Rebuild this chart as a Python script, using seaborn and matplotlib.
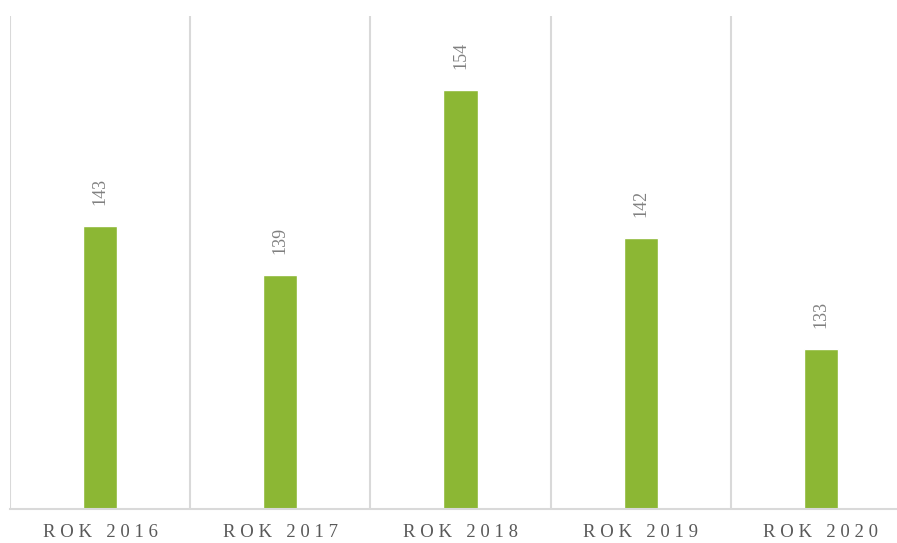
import matplotlib
matplotlib.use("Agg")
import matplotlib.pyplot as plt
import seaborn as sns
import pandas as pd

years = ["ROK 2016", "ROK 2017", "ROK 2018", "ROK 2019", "ROK 2020"]
values = [143, 139, 154, 142, 133]

df = pd.DataFrame({"rok": years, "liczba": values})

sns.set_style("white")
plt.rcParams['font.family'] = ['Liberation Serif', 'DejaVu Serif']

text_gray = "#595959"
grid_gray = "#d9d9d9"
bar_green = "#8cb734"

fig = plt.figure(figsize=(8.97, 5.43), dpi=100)
# axes run slightly past the right edge, as in the original
ax = fig.add_axes([10 / 897, 34 / 543, 901 / 897, 493 / 543])

sns.barplot(data=df, x="rok", y="liczba", color=bar_green, width=0.19,
            saturation=1, ax=ax)

ax.set_ylim(120, 160)
ax.set_xlim(-0.5, len(years) - 0.5)
ax.set_yticks([])
ax.set_xlabel("")
ax.set_ylabel("")

# vertical separators between categories
ax.set_xticks([i - 0.5 for i in range(len(years) + 1)], minor=True)
ax.grid(True, which="minor", axis="x", color=grid_gray, linewidth=1.5)
ax.grid(False, which="major")
ax.set_axisbelow(True)

for side in ["top", "left", "right"]:
    ax.spines[side].set_visible(False)
ax.spines["bottom"].set_color(grid_gray)
ax.spines["bottom"].set_linewidth(1.5)

# fake letter spacing with spaces between the letters
spaced = [" ".join(list(y)) for y in years]
ax.set_xticks(range(len(years)))
ax.set_xticklabels(spaced, fontsize=13.5, color=text_gray)
ax.tick_params(axis="x", which="both", length=0, pad=11)

ax.bar_label(ax.containers[0], labels=[str(v) for v in values], rotation=90,
             padding=15, fontsize=13, color="#808080")

fig.savefig("out.png", dpi=100)
